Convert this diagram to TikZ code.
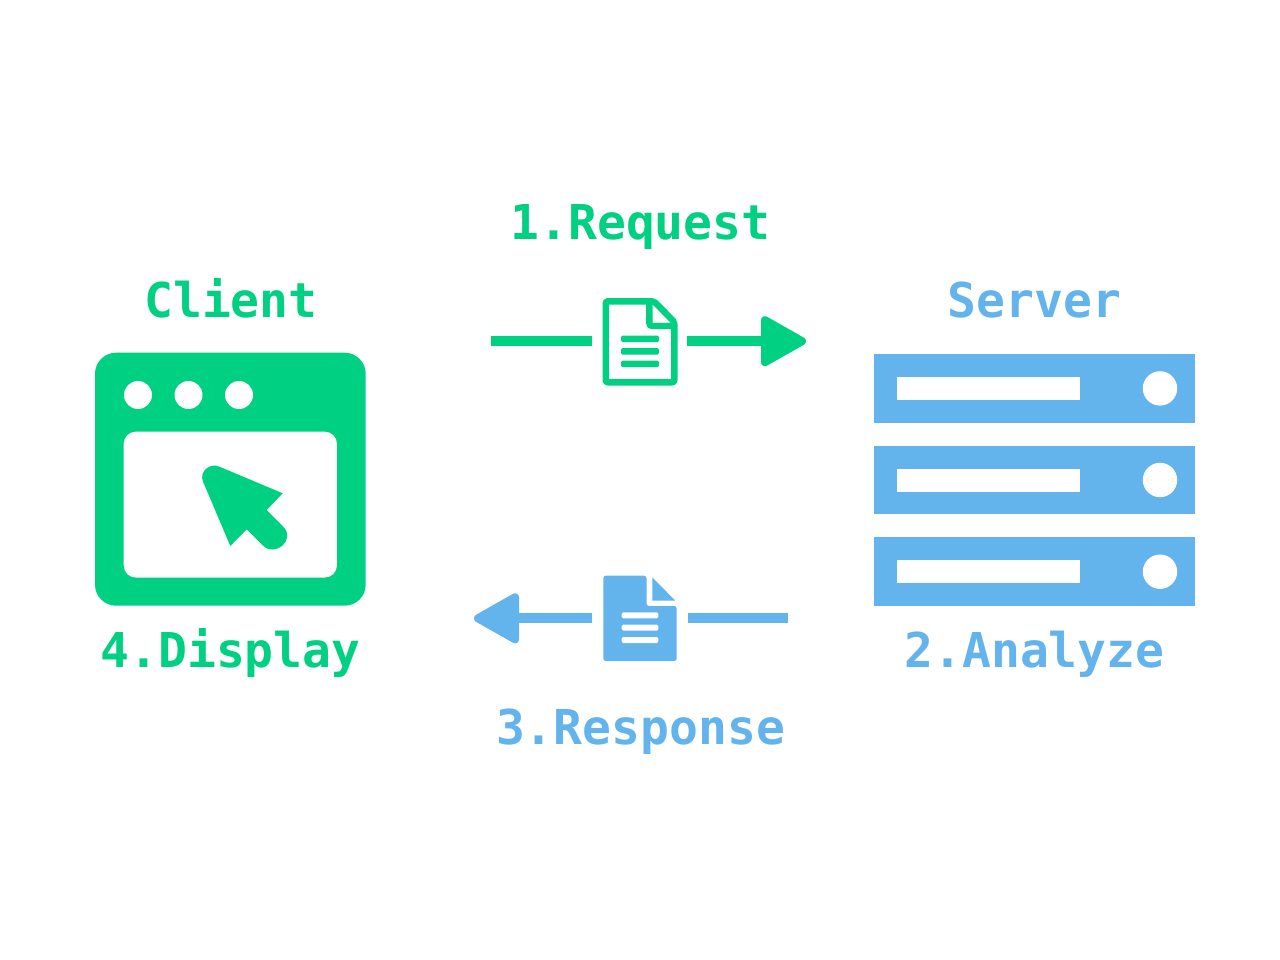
\documentclass[tikz,border=0pt]{standalone}
\usepackage{fontspec}
\setmonofont{DejaVu Sans Mono}
\definecolor{cgreen}{RGB}{0,208,130}
\definecolor{cblue}{RGB}{99,179,237}
\tikzset{
  lbl/.style={anchor=base,inner sep=0pt,font=\ttfamily\bfseries\fontsize{48}{48}\selectfont},
  gl/.style={lbl,text=cgreen},
  bl/.style={lbl,text=cblue},
  shaft/.style={line width=10pt,line cap=butt},
  tip/.style={line width=8pt,line join=round},
  docbar/.style={rounded corners=1.5pt},
}
\begin{document}
\begin{tikzpicture}[x=1pt,y=-1pt]
\useasboundingbox (0,0) rectangle (1280,960);
% labels
\node[gl] (client) at (231,317) {Client};
\node[bl] (server) at (1034.5,317) {Server};
\node[gl] (request) at (640.5,239.5) {1.Request};
\node[bl] (response) at (640.5,744) {3.Response};
\node[gl] (display) at (230.5,667) {4.Display};
\node[bl] (analyze) at (1034.5,667) {2.Analyze};
% client window
\fill[cgreen,rounded corners=21pt] (95,352.7) rectangle (365.7,605.7);
\fill[white,rounded corners=12pt] (123.7,431.7) rectangle (336.9,577.5);
\foreach \cx in {138,188.5,239} \fill[white] (\cx,395) circle (14);
\fill[cgreen] (219,466.5) -- (282.7,493.3) -- (266.7,510) -- (283.3,526.7)
  .. controls (296,539.5) and (275.5,558) .. (262.5,545.2)
  -- (246.7,529.3) -- (230.3,546) -- (203,481.5)
  .. controls (199,472) and (209.5,462.5) .. (219,466.5) -- cycle;
% server
\foreach \ty in {354,445.6,537.3} {
  \fill[cblue] (873.5,\ty) rectangle (1195,\ty+68.8);
  \fill[white] (897,\ty+23) rectangle (1080,\ty+46);
  \fill[white] (1160,\ty+34.4) circle (17.2);
}
% request document
\draw[cgreen,line width=6.4pt,line join=round,rounded corners=2pt]
  (605.7,301.3) -- (654,301.3) -- (674.3,322) -- (674.3,382.3) -- (605.7,382.3) -- cycle;
\draw[cgreen,line width=6.4pt,rounded corners=3pt] (649.3,301.3) -- (649.3,326) -- (674.3,326);
\foreach \ly in {335.7,348.2,360.7} \fill[cgreen,docbar] (621,\ly) rectangle (659,\ly+6.4);
% response document
\fill[cblue,rounded corners=2.5pt] (603.3,575.7) -- (646.5,575.7) -- (646.5,606) -- (676.7,606) -- (676.7,661) -- (603.3,661) -- cycle;
\fill[cblue] (652.3,577.3) -- (675.3,600.7) -- (652.3,600.7) -- cycle;
\foreach \ly in {612.3,624.6,637} \fill[white,docbar] (621.7,\ly) rectangle (658.3,\ly+6.1);
% request arrow
\coordinate (a1) at (491,341.2);
\coordinate (a2) at (592,341.2);
\coordinate (a3) at (687,341.2);
\coordinate (a4) at (765,341.2);
\coordinate (a5) at (802,341.2);
\draw[cgreen,shaft] (a1) -- (a2);
\draw[cgreen,shaft] (a3) -- (a4);
\filldraw[cgreen,tip] (a5) -- ([yshift=21pt]a4) -- ([yshift=-21pt]a4) -- cycle;
% response arrow
\coordinate (b1) at (788,618.3);
\coordinate (b2) at (687.7,618.3);
\coordinate (b3) at (592,618.3);
\coordinate (b4) at (515,618.3);
\coordinate (b5) at (478,618.3);
\draw[cblue,shaft] (b1) -- (b2);
\draw[cblue,shaft] (b3) -- (b4);
\filldraw[cblue,tip] (b5) -- ([yshift=21pt]b4) -- ([yshift=-21pt]b4) -- cycle;
\end{tikzpicture}
\end{document}
